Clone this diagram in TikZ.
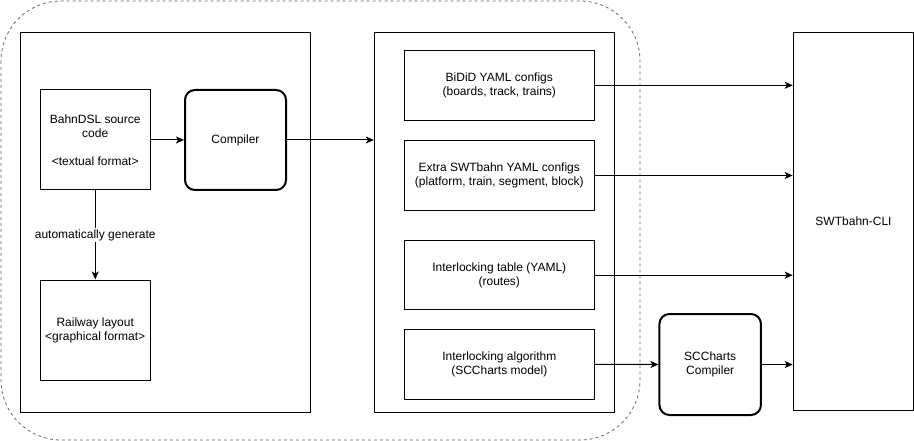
\documentclass[tikz,border=0pt]{standalone}
\usepackage{fontspec}
\setmainfont{Liberation Sans}
\usetikzlibrary{arrows.meta}
\begin{document}
\begin{tikzpicture}[x=1pt,y=-1pt,
  every node/.style={font=\fontsize{12}{14}\selectfont, align=center, inner sep=0pt},
  box/.style={draw, line width=1pt},
  thickbox/.style={draw, line width=2pt, rounded corners=10pt},
  arr/.style={line width=1pt, -{Stealth[length=8pt,width=7pt,inset=2pt]}},
  group/.style={draw=black!60, line width=0.8pt, dash pattern=on 3pt off 3pt, rounded corners=60pt}
]
\useasboundingbox (0,0) rectangle (914,441);
% dashed group
\draw[group] (1,1) rectangle (640,440);
% left container
\node[box, minimum width=289.5pt, minimum height=379.5pt] (left) at (165.5,222.25) {};
\node[box, minimum width=110.5pt, minimum height=100pt] (dsl) at (95.25,140) {BahnDSL source\\code\\[14pt]<textual format>};
\node[thickbox, minimum width=101pt, minimum height=100pt] (comp) at (235.5,140) {Compiler};
\node[box, minimum width=110.5pt, minimum height=100pt] (rail) at (95.25,330) {Railway layout\\<graphical format>};
% middle container
\node[box, minimum width=240pt, minimum height=380pt] (mid) at (494.3,222.3) {};
\node[box, minimum width=190pt, minimum height=69.5pt] (b1) at (499.3,85.3) {BiDiD YAML configs\\(boards, track, trains)};
\node[box, minimum width=190pt, minimum height=69.5pt] (b2) at (499.3,175.5) {Extra SWTbahn YAML configs\\(platform, train, segment, block)};
\node[box, minimum width=190pt, minimum height=69.5pt] (b3) at (499.3,275.2) {Interlocking table (YAML)\\(routes)};
\node[box, minimum width=190pt, minimum height=69.5pt] (b4) at (499.3,364.3) {Interlocking algorithm\\(SCCharts model)};
% right
\node[box, minimum width=120.5pt, minimum height=377.5pt] (cli) at (853.5,221.4) {SWTbahn-CLI};
\node[thickbox, minimum width=101.5pt, minimum height=101pt] (scc) at (710.2,364.5) {SCCharts\\Compiler};
% connectors
\draw[arr] (dsl.east) -- (comp.west);
\draw[arr] (comp.east) -- (comp.east -| mid.west);
\draw[arr] (dsl.south) -- node[fill=white, inner sep=1pt] {automatically generate} (rail.north);
\draw[arr] (b1.east) -- (b1.east -| cli.west);
\draw[arr] (b2.east) -- (b2.east -| cli.west);
\draw[arr] (b3.east) -- (b3.east -| cli.west);
\draw[arr] (b4.east) -- (scc.west);
\draw[arr] (scc.east) -- (scc.east -| cli.west);
\end{tikzpicture}
\end{document}
